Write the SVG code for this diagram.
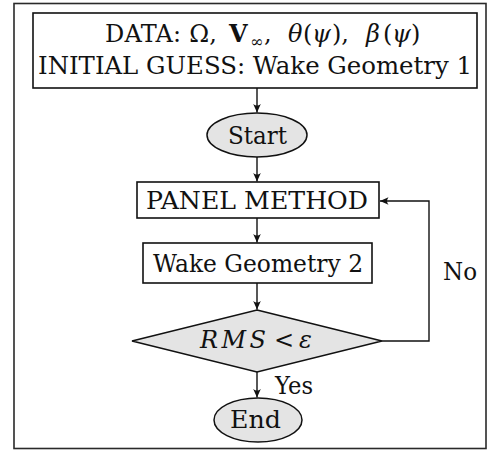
<svg xmlns="http://www.w3.org/2000/svg" width="487" height="451" viewBox="0 0 487 451">
  <defs>
    <style>
      .frame { fill: #ffffff; stroke: #2a2a2a; stroke-width: 1.6; }
      .box { fill: #ffffff; stroke: #111111; stroke-width: 1.6; }
      .term { fill: #e4e4e4; stroke: #111111; stroke-width: 1.5; }
      .lbl { font-family: "DejaVu Serif", "Liberation Serif", serif; font-size: 24px; fill: #111111; }
      .it { font-style: italic; }
      .edge { fill: none; stroke: #111111; stroke-width: 1.4; }
    </style>
    <marker id="arrow" viewBox="-9 -5 10 10" refX="0" refY="0" markerWidth="10" markerHeight="10" markerUnits="userSpaceOnUse" orient="auto">
      <path d="M0,0 L-8.5,-3.8 Q-5.5,0 -8.5,3.8 Z" fill="#111111"/>
    </marker>
  </defs>

  <rect class="frame" x="14" y="3.5" width="472" height="445"/>

  <g id="data">
    <rect class="box" x="33" y="13" width="444" height="75"/>
    <text class="lbl" y="42"><tspan x="105" textLength="112" lengthAdjust="spacing">DATA: Ω,</tspan><tspan x="229" font-weight="bold">V</tspan><tspan x="250" y="47" font-size="16">∞</tspan><tspan x="264" y="42">,</tspan><tspan x="288" class="it">θ</tspan><tspan x="303">(</tspan><tspan x="312" class="it">ψ</tspan><tspan x="332">),</tspan><tspan x="366" class="it">β</tspan><tspan x="383">(</tspan><tspan x="392" class="it">ψ</tspan><tspan x="411">)</tspan></text>
    <text class="lbl" x="38" y="74" textLength="434" lengthAdjust="spacingAndGlyphs">INITIAL GUESS: Wake Geometry 1</text>
  </g>

  <g id="start">
    <ellipse class="term" cx="257" cy="135" rx="50" ry="22"/>
    <text class="lbl" x="228" y="144" textLength="59" lengthAdjust="spacingAndGlyphs">Start</text>
  </g>

  <g id="panel">
    <rect class="box" x="137" y="182" width="242" height="36"/>
    <text class="lbl" x="146" y="209" textLength="222" lengthAdjust="spacingAndGlyphs">PANEL METHOD</text>
  </g>

  <g id="wake">
    <rect class="box" x="143" y="243" width="229" height="40"/>
    <text class="lbl" x="153" y="272" textLength="210" lengthAdjust="spacingAndGlyphs">Wake Geometry 2</text>
  </g>

  <g id="check">
    <polygon class="term" points="257,310 382,341 257,372 132,341"/>
    <text class="lbl" y="348"><tspan class="it" x="200" textLength="66" lengthAdjust="spacing">RMS</tspan><tspan x="274">&lt;</tspan><tspan class="it" x="299">ε</tspan></text>
  </g>

  <g id="end">
    <ellipse class="term" cx="258" cy="420" rx="44" ry="22"/>
    <text class="lbl" x="230" y="428" textLength="51" lengthAdjust="spacingAndGlyphs">End</text>
  </g>

  <g id="connectors">
    <line class="edge" x1="257" y1="88" x2="257" y2="112.5" marker-end="url(#arrow)"/>
    <line class="edge" x1="257" y1="157" x2="257" y2="181.5" marker-end="url(#arrow)"/>
    <line class="edge" x1="257" y1="218" x2="257" y2="242.5" marker-end="url(#arrow)"/>
    <line class="edge" x1="257" y1="283" x2="257" y2="309.5" marker-end="url(#arrow)"/>
    <line class="edge" x1="257" y1="372" x2="257" y2="397.5" marker-end="url(#arrow)"/>
    <polyline class="edge" points="382,341 429,341 429,201 380,201" marker-end="url(#arrow)"/>
    <text class="lbl" x="275" y="394" textLength="38" lengthAdjust="spacingAndGlyphs">Yes</text>
    <text class="lbl" x="443" y="280" textLength="34" lengthAdjust="spacingAndGlyphs">No</text>
  </g>
</svg>
